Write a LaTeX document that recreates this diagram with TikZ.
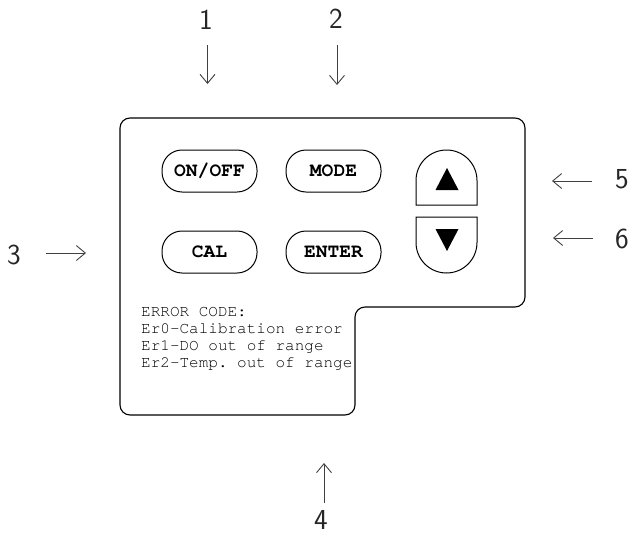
\documentclass[tikz,border=0pt]{standalone}
\usepackage{fontspec}
\setmonofont{TeX Gyre Cursor}
\usetikzlibrary{arrows.meta}

\tikzset{
  key/.style={draw,line width=1pt,rectangle,rounded corners=20pt,minimum width=95pt,minimum height=42pt,inner sep=0pt,
    font=\fontsize{19.6}{20}\selectfont\ttfamily\bfseries},
  callout/.style={inner sep=0pt,font=\fontsize{29}{30}\selectfont\sffamily,text=black!85},
  pointer/.style={draw=black!75,line width=0.9pt,-{Straight Barb[length=9pt,width=15pt,line width=0.9pt]}}
}

\begin{document}
\begin{tikzpicture}[x=1pt,y=-1pt]
	\useasboundingbox(0,0)rectangle(635,536);
	% panel outline
	\draw[line width=1.1pt,rounded corners=10pt](120,118)--(525,118)--(525,307)--(355,307)--(355,415)--(120,415)--cycle;
	% keys
	\node[key](onoff)at(209.5,171){ON/OFF};
	\node[key](mode)at(333.5,171){MODE};
	\node[key](cal)at(209.5,252){CAL};
	\node[key](enter)at(333.5,252){ENTER};
	\draw[line width=1pt](416,205)--(416,180.5)arc(180:360:30.5)--(477,205)--cycle;
	\draw[line width=1pt](416,217)--(416,242.5)arc(180:0:30.5)--(477,217)--cycle;
	\fill(435.5,190)--(458.5,190)--(447,168)--cycle;
	\fill(435.5,229)--(458.5,229)--(447,251)--cycle;
	\node[anchor=base west,align=left,inner sep=0pt,font=\fontsize{16}{16.7}\selectfont\ttfamily](errors)at(141,367)
		{ERROR CODE:\\Er0-Calibration error\\Er1-DO out of range\\Er2-Temp. out of range};
	% callouts
	\node[callout](n1)at(206,20){1};
	\node[callout](n2)at(336,19){2};
	\node[callout](n3)at(14,255){3};
	\node[callout](n4)at(321,520){4};
	\node[callout](n5)at(622,179){5};
	\node[callout](n6)at(622,239){6};
	\coordinate(t1)at(207.5,45);\coordinate(h1)at(207.5,84);
	\coordinate(t2)at(337,45);\coordinate(h2)at(337,85);
	\coordinate(t3)at(46,253);\coordinate(h3)at(86,253);
	\coordinate(t4)at(324,503);\coordinate(h4)at(324,463);
	\coordinate(t5)at(592,181);\coordinate(h5)at(552,181);
	\coordinate(t6)at(593,238);\coordinate(h6)at(553,238);
	\foreach \i in {1,...,6}
		\draw[pointer](t\i)--(h\i);
\end{tikzpicture}
\end{document}
